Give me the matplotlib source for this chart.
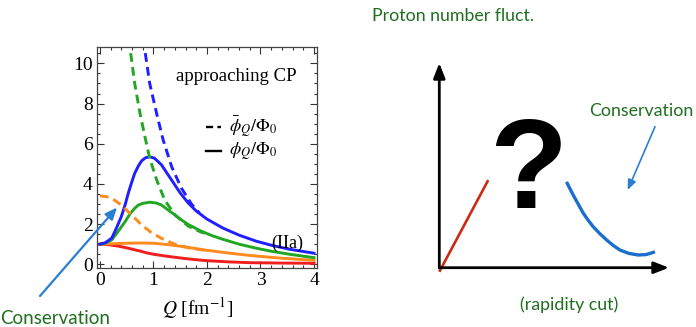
import matplotlib
matplotlib.use("Agg")
import matplotlib.pyplot as plt

# ---------------- data: left panel ----------------
x_blue_solid = [0, 0.1, 0.22, 0.30, 0.40, 0.47, 0.53, 0.59, 0.65, 0.72, 0.78, 0.85, 0.93, 1.02, 1.15, 1.30, 1.40, 1.50,
                1.65, 1.80, 2.0, 2.3, 2.6, 2.92, 3.2, 3.54, 4.0]
y_blue_solid = [1.0, 1.07, 1.3, 1.75, 2.37, 2.95, 3.54, 4.05, 4.53, 4.9, 5.15, 5.3, 5.35, 5.28, 4.95, 4.35, 3.95, 3.55,
                3.05, 2.65, 2.25, 1.8, 1.45, 1.15, 0.95, 0.75, 0.55]
x_blue_dash = [0.81, 0.93, 1.06, 1.18, 1.34, 1.52, 1.71, 1.80, 1.86]
y_blue_dash = [11.2, 9.0, 7.5, 6.2, 4.86, 3.8, 3.0, 2.72, 2.55]

x_green_solid = [0, 0.1, 0.22, 0.33, 0.47, 0.56, 0.65, 0.72, 0.80, 0.93, 1.05, 1.15, 1.25, 1.40, 1.50, 1.65, 1.89,
                 2.1, 2.3, 2.6, 2.92, 3.2, 3.54, 4.0]
y_green_solid = [1.0, 1.05, 1.21, 1.6, 2.12, 2.5, 2.79, 2.95, 3.03, 3.09, 3.05, 2.95, 2.75, 2.46, 2.25, 1.98, 1.65,
                 1.42, 1.24, 1.0, 0.80, 0.65, 0.50, 0.33]
x_green_dash = [0.54, 0.65, 0.75, 0.84, 0.93, 1.06, 1.21, 1.40, 1.65, 1.89, 2.0]
y_green_dash = [11.2, 9.0, 7.5, 6.36, 5.28, 4.2, 3.2, 2.46, 1.9, 1.6, 1.52]

x_orange_solid = [0, 0.2, 0.4, 0.7, 1.0, 1.3, 1.55, 1.99, 2.4, 2.8, 3.4, 4.0]
y_orange_solid = [1.0, 1.02, 1.04, 1.06, 1.05, 0.97, 0.88, 0.70, 0.56, 0.44, 0.30, 0.20]
x_orange_dash = [0, 0.12, 0.22, 0.40, 0.59, 0.78, 0.96, 1.15, 1.40, 1.65, 1.89, 2.05]
y_orange_dash = [3.4, 3.37, 3.29, 2.95, 2.46, 1.96, 1.58, 1.29, 1.0, 0.82, 0.72, 0.66]

x_red = [0, 0.1, 0.2, 0.35, 0.5, 0.62, 0.75, 0.87, 1.0, 1.1, 1.25, 1.4, 1.55, 1.75, 1.99, 2.2, 2.4, 2.8, 3.4, 4.0]
y_red = [1.0, 0.99, 0.96, 0.9, 0.82, 0.74, 0.66, 0.57, 0.50, 0.46, 0.40, 0.35, 0.30, 0.24, 0.18, 0.15, 0.12, 0.08, 0.06, 0.05]

x_ticks = [0, 1, 2, 3, 4]
y_ticks = [0, 2, 4, 6, 8, 10]

# ---------------- data: right schematic (axis units 0..1) ----------------
x_red_line = [0.0, 0.213]
y_red_line = [-0.02, 0.428]
x_blue_curve = [0.557, 0.570, 0.583, 0.605, 0.627, 0.648, 0.670, 0.700, 0.729, 0.758, 0.787, 0.825, 0.866, 0.900, 0.932]
y_blue_curve = [0.412, 0.383, 0.355, 0.310, 0.266, 0.232, 0.200, 0.165, 0.135, 0.108, 0.086, 0.070, 0.062, 0.064, 0.075]

W, H = 696, 327
fig = plt.figure(figsize=(W / 100, H / 100), dpi=100)

def fx(px):
    return px / W

def fy(py):
    return 1 - py / H

BLUE = "#1f1fff"
GREEN = "#22a722"
ORANGE = "#ff8a1e"
RED = "#f01e1e"
TXTGREEN = "#1f6f1f"
ARROWBLUE = "#2a7fd0"

plt.rcParams["mathtext.fontset"] = "stix"

# ---------------- left panel ----------------
L, R, T, B = 96.7, 316.7, 47.3, 267.7
ax = fig.add_axes([fx(L), fy(B), (R - L) / W, (B - T) / H])
lw = 2.1
ax.plot(x_red, y_red, color=RED, lw=lw)
ax.plot(x_orange_solid, y_orange_solid, color=ORANGE, lw=lw)
ax.plot(x_green_solid, y_green_solid, color=GREEN, lw=lw)
ax.plot(x_blue_solid, y_blue_solid, color=BLUE, lw=lw)
ax.plot(x_orange_dash, y_orange_dash, color=ORANGE, lw=lw, ls=(0, (3, 1.8)))
ax.plot(x_green_dash, y_green_dash, color=GREEN, lw=lw, ls=(0, (3, 1.8)))
ax.plot(x_blue_dash, y_blue_dash, color=BLUE, lw=lw, ls=(0, (3, 1.8)))

ax.set_xlim(-0.06, 4.05)
ax.set_ylim(-0.17, 10.8)
ax.set_xticks(x_ticks)
ax.set_yticks(y_ticks)
ax.set_xticks([i * 0.2 for i in range(21)], minor=True)
ax.set_yticks([i * 0.5 for i in range(22)], minor=True)
serif = "Liberation Serif"
for lab in ax.get_xticklabels() + ax.get_yticklabels():
    lab.set_fontfamily(serif)
    lab.set_fontsize(14)
ax.tick_params(which="both", direction="in", top=True, right=True, color="#333333", width=0.8)
ax.tick_params(which="major", length=5, pad=3)
ax.tick_params(which="minor", length=2.5)
for s in ax.spines.values():
    s.set_color("#444444")
    s.set_linewidth(0.9)

ax.text(3.67, 9.35, "approaching CP", family=serif, fontsize=13.5, ha="right", va="center")
ax.plot([1.99, 2.27], [6.85, 6.85], color="black", lw=1.7, ls=(0, (3, 1.8)))
ax.plot([1.99, 2.27], [5.65, 5.65], color="black", lw=1.7)
ax.text(2.42, 6.85, r"$\bar{\phi}_Q/\Phi_0$", fontsize=13, ha="left", va="center")
ax.text(2.42, 5.65, r"$\phi_Q/\Phi_0$", fontsize=13, ha="left", va="center")
ax.text(3.5, 1.05, "(IIa)", family=serif, fontsize=13, ha="center", va="center")

fig.text(fx(198), fy(308), r"$Q$ [fm$^{-1}$]", family=serif, fontsize=14, ha="center", va="center")

# ---------------- right schematic ----------------
ox, oy, ex, ey = 439.3, 267.7, 669, 63
ax2 = fig.add_axes([fx(ox), fy(oy), (ex - ox) / W, (oy - ey) / H])
ax2.set_xlim(0, 1)
ax2.set_ylim(0, 1)
ax2.axis("off")
ax2.plot(x_red_line, y_red_line, color="#cc2a14", lw=1.9, clip_on=False, solid_capstyle="butt")
ax2.plot(x_blue_curve, y_blue_curve, color="#1a6fcc", lw=2.4, clip_on=False)
ax2.annotate("", xy=(1.0, 0), xytext=(0, 0),
             arrowprops=dict(arrowstyle="-|>,head_length=0.9,head_width=0.35", color="black", lw=2, shrinkA=0, shrinkB=0))
ax2.annotate("", xy=(0, 1.0), xytext=(0, 0),
             arrowprops=dict(arrowstyle="-|>,head_length=0.9,head_width=0.35", color="black", lw=2, shrinkA=0, shrinkB=0))

fig.text(fx(528), fy(175), "?", family="Liberation Sans", fontweight="bold", fontsize=92, ha="center", va="center")

# ---------------- overlay annotations ----------------
ov = fig.add_axes([0, 0, 1, 1], facecolor="none")
ov.set_xlim(0, W)
ov.set_ylim(H, 0)
ov.axis("off")
ov.annotate("", xy=(117, 207.5), xytext=(40, 296),
            arrowprops=dict(arrowstyle="-|>,head_length=0.7,head_width=0.3", color=ARROWBLUE, lw=1.6, shrinkA=0, shrinkB=0))
ov.annotate("", xy=(627.7, 190), xytext=(655, 126.7),
            arrowprops=dict(arrowstyle="-|>,head_length=0.6,head_width=0.25", color=ARROWBLUE, lw=1.2, shrinkA=0, shrinkB=0))

sans = "Lato"
ov.text(0, 318, "Conservation", family=sans, fontsize=13.5, color=TXTGREEN, ha="left", va="center")
ov.text(372, 16, "Proton number fluct.", family=sans, fontsize=12.8, color=TXTGREEN, ha="left", va="center")
ov.text(693, 111, "Conservation", family=sans, fontsize=12.8, color=TXTGREEN, ha="right", va="center")
ov.text(569, 305, "(rapidity cut)", family=sans, fontsize=12.8, color=TXTGREEN, ha="center", va="center")

fig.savefig("out.png", dpi=100)
